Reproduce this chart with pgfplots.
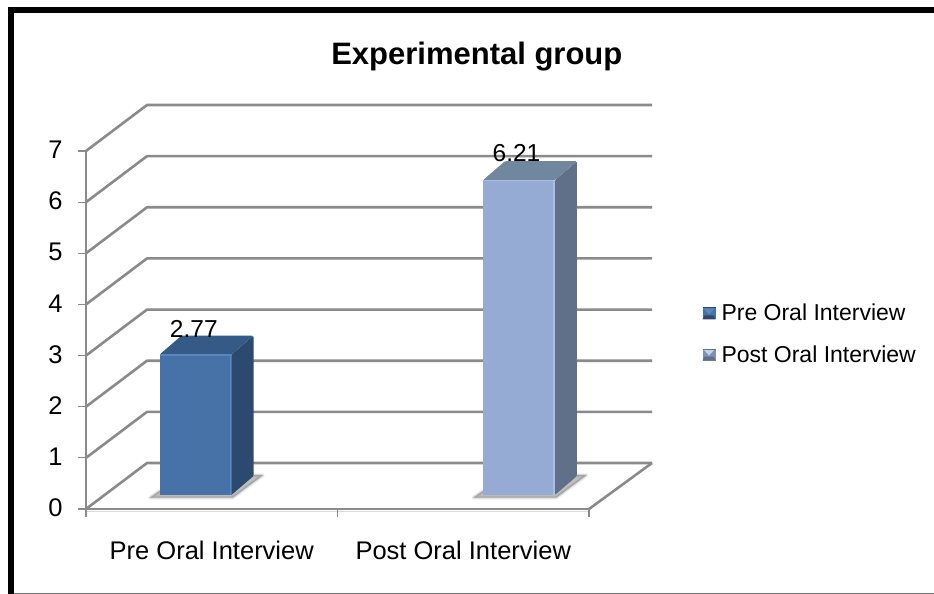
\documentclass[border=0pt]{standalone}
\usepackage{pgfplots}
\pgfplotsset{compat=1.18}
\usepackage{fontspec}
\setmainfont{Liberation Sans}
\definecolor{wall}{HTML}{8A8A8A}
\definecolor{preF}{HTML}{4672A8}
\definecolor{preS}{HTML}{2C4A70}
\definecolor{preT}{HTML}{345B87}
\definecolor{preH}{HTML}{5A86BC}
\definecolor{postF}{HTML}{95ABD3}
\definecolor{postS}{HTML}{5F7088}
\definecolor{postT}{HTML}{71869F}
\definecolor{postH}{HTML}{A9BEE2}
% Soft contact shadow on the chart floor: stacked translucent strokes
\newcommand{\softshadow}[1]{%
  \addplot[forget plot,fill=black,draw=black,opacity=.06,line width=4pt,line join=round] coordinates {#1} --cycle;
  \addplot[forget plot,fill=black,draw=black,opacity=.09,line width=2pt,line join=round] coordinates {#1} --cycle;
  \addplot[forget plot,fill=black,draw=none,opacity=.12] coordinates {#1} --cycle;
}
% Legend key with a bevelled, pyramid-like face
\newcommand{\bevelkey}[4]{%
  \fill[#1] (0pt,-6pt) rectangle (13pt,6pt);
  \fill[#2] (1pt,5pt) -- (12pt,5pt) -- (6.5pt,-1pt) -- cycle;
  \fill[#3] (0pt,-6pt) -- (13pt,-6pt) -- (11pt,-2pt) -- (2pt,-2pt) -- cycle;
  \fill[#4] (0pt,6pt) rectangle (13pt,5pt);
}
\begin{document}
\begin{tikzpicture}
\path[use as bounding box] (-86pt,-85pt) rectangle (848pt,509pt);
% Outer frame: heavy rule on the top and left, thin rule at the foot
\fill[white] (-86pt,-85pt) rectangle (848pt,509pt);
\fill[black] (-78pt,-85pt) rectangle (-72pt,502pt);
\fill[black] (-78pt,496pt) rectangle (848pt,502pt);
\fill[black!55] (-72pt,-85pt) rectangle (848pt,-84pt);
% Walls, floor, scale and category axis
\begin{axis}[
  scale only axis, width=503pt, height=358pt,
  xmin=-0.5, xmax=1.5, ymin=0, ymax=7,
  clip=false,
  axis x line=bottom, axis y line=left,
  axis line style={-,draw=wall,line width=2.6pt},
  tick align=outside,
  tick style={draw=wall,line width=1.2pt},
  major tick length=8pt,
  ytick={0,...,7},
  xtick={0,1},
  xticklabels={Pre Oral Interview,Post Oral Interview},
  x tick style={draw=none},
  /pgf/number format/assume math mode=true,
  x tick label style={font=\fontsize{25.5}{28}\selectfont,yshift=-20pt},
  y tick label style={font=\fontsize{25.5}{28}\selectfont,xshift=-12pt,yshift=1pt},
  title={\bfseries Experimental group},
  title style={font=\fontsize{31}{34}\selectfont,at={(axis description cs:0.777,1.246)},anchor=center},
]
\pgfplotsinvokeforeach{0,...,7}{
  \draw[wall,line width=2.6pt,line join=round] (axis cs:-0.5,#1) -- ++(61pt,46pt) -- ++(505pt,0pt);
}
\draw[wall,line width=2.6pt,line join=round] (axis cs:1.5,0) -- ++(63pt,46pt);
\draw[black!15,line width=1.5pt] (axis cs:-0.5,0) ++(0pt,-2.3pt) -- ++(503pt,0pt);
\pgfplotsinvokeforeach{-0.5,0.5,1.5}{
  \draw[wall,line width=1.2pt] (axis cs:#1,0) -- ++(0pt,-8pt);
}
\end{axis}
% Bars, standing part way back on the floor
\begin{axis}[
  at={(19.75pt,14pt)},
  scale only axis, width=503pt, height=354.9pt,
  xmin=-0.5, xmax=1.5, ymin=0, ymax=7,
  clip=false, hide axis,
  /pgf/number format/assume math mode=true,
  every node near coord/.append style={font=\fontsize{24.5}{28}\selectfont,black},
  legend style={draw=none,fill=none,at={(1.186,0.4537)},anchor=west,
    font=\fontsize{23}{26}\selectfont,inner sep=0pt,
    row sep=23pt,nodes={inner sep=0pt},
    /tikz/every odd column/.style={column sep=6pt}},
  legend cell align=left,
]
\softshadow{(-0.324,-0.05) (0.006,-0.05) (0.125,0.39) (0.05,0.39) (-0.286,0.08)}
\softshadow{(0.962,-0.05) (1.292,-0.05) (1.411,0.39) (1.336,0.39) (1,0.08)}
% Pre Oral Interview: side, top, front
\addplot[forget plot,fill=preS,draw=none,rounded corners=1.2pt] coordinates {(0,0) (0.0875,0.375) (0.0875,3.145) (0,2.77)} --cycle;
\addplot[forget plot,fill=preT,draw=none,rounded corners=1.2pt] coordinates {(-0.286,2.77) (-0.1985,3.145) (0.0875,3.145) (0,2.77)} --cycle;
\addplot[ybar,bar width=72pt,bar shift=-36pt,fill=preF,draw=none,
  nodes near coords,
  nodes near coords align={anchor=base,xshift=-37.7pt,yshift=17pt},
  legend image code/.code={\bevelkey{preF}{preH}{preS}{preS}}]
  coordinates {(0,2.77)};
\addlegendentry{Pre Oral Interview}
\draw[preH,line width=1.4pt] (axis cs:-0.286,2.76) -- (axis cs:0,2.76);
\draw[preH,line width=1.4pt] (axis cs:-0.003,0) -- (axis cs:-0.003,2.76);
% Post Oral Interview: side, top, front
\addplot[forget plot,fill=postS,draw=none,rounded corners=1.2pt] coordinates {(1.286,0) (1.3735,0.375) (1.3735,6.585) (1.286,6.21)} --cycle;
\addplot[forget plot,fill=postT,draw=none,rounded corners=1.2pt] coordinates {(1,6.21) (1.0875,6.585) (1.3735,6.585) (1.286,6.21)} --cycle;
\addplot[ybar,bar width=72pt,bar shift=36pt,fill=postF,draw=none,
  nodes near coords,
  nodes near coords align={anchor=base,xshift=33.5pt,yshift=19pt},
  legend image code/.code={\bevelkey{postF!85!black}{postH!70!white}{postS}{postS}}]
  coordinates {(1,6.21)};
\addlegendentry{Post Oral Interview}
\draw[postH,line width=1.4pt] (axis cs:1,6.20) -- (axis cs:1.286,6.20);
\draw[postH,line width=1.4pt] (axis cs:1.283,0) -- (axis cs:1.283,6.20);
\end{axis}
\end{tikzpicture}
\end{document}
